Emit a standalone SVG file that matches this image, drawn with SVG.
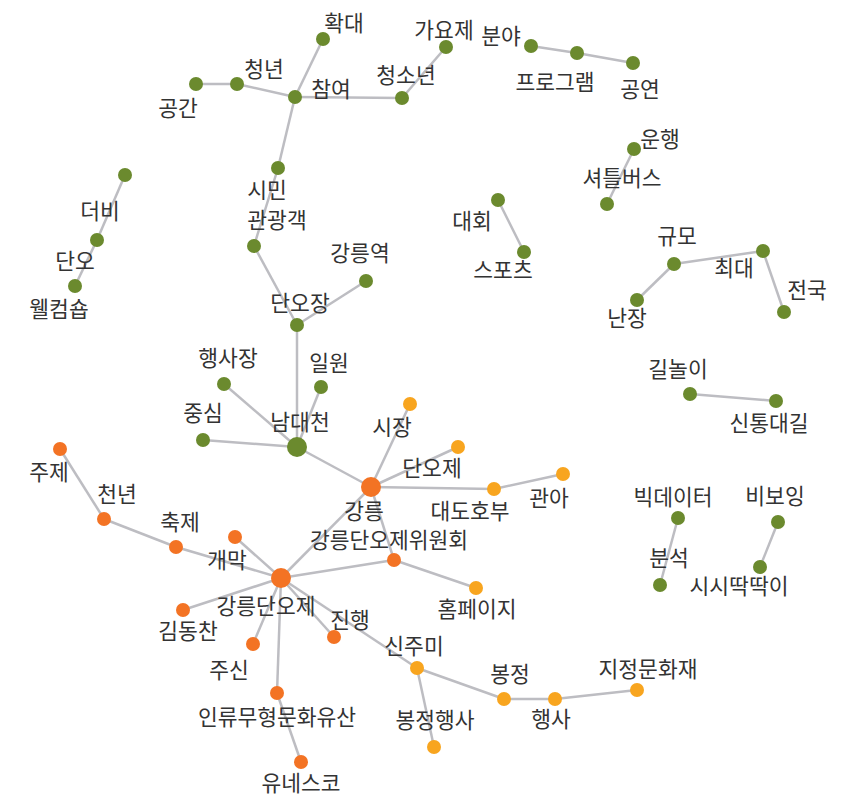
<svg xmlns="http://www.w3.org/2000/svg" width="844" height="798" viewBox="0 0 844 798">
<style>
.e{stroke:#bdbdc2;stroke-width:2.5;fill:none}
.g{fill:#6b8a2e}
.o{fill:#f37324}
.y{fill:#f8a51f}
text{font-family:"Noto Sans CJK KR","Noto Sans",sans-serif;font-size:21.5px;fill:#333;text-anchor:middle}
</style>
<rect width="844" height="798" fill="#fff"/>
<g id="edges">
<line class="e" x1="323" y1="39" x2="295" y2="97"/>
<line class="e" x1="237" y1="84" x2="295" y2="97"/>
<line class="e" x1="196" y1="84" x2="237" y2="84"/>
<line class="e" x1="295" y1="97" x2="402" y2="98"/>
<line class="e" x1="402" y1="98" x2="446" y2="47"/>
<line class="e" x1="295" y1="97" x2="278" y2="168"/>
<line class="e" x1="278" y1="168" x2="254" y2="246"/>
<line class="e" x1="254" y1="246" x2="297" y2="325"/>
<line class="e" x1="297" y1="325" x2="366" y2="281"/>
<line class="e" x1="297" y1="325" x2="297" y2="447"/>
<line class="e" x1="531" y1="46" x2="577" y2="53"/>
<line class="e" x1="577" y1="53" x2="633" y2="63"/>
<line class="e" x1="634" y1="149" x2="607" y2="204"/>
<line class="e" x1="498" y1="200" x2="524" y2="252"/>
<line class="e" x1="674" y1="264" x2="763" y2="251"/>
<line class="e" x1="674" y1="264" x2="637" y2="300"/>
<line class="e" x1="763" y1="251" x2="784" y2="312"/>
<line class="e" x1="125" y1="175" x2="97" y2="240"/>
<line class="e" x1="97" y1="240" x2="75" y2="286"/>
<line class="e" x1="297" y1="447" x2="224" y2="384"/>
<line class="e" x1="297" y1="447" x2="321" y2="387"/>
<line class="e" x1="297" y1="447" x2="203" y2="440"/>
<line class="e" x1="297" y1="447" x2="371" y2="487"/>
<line class="e" x1="690" y1="394" x2="776" y2="401"/>
<line class="e" x1="371" y1="487" x2="410" y2="404"/>
<line class="e" x1="371" y1="487" x2="458" y2="447"/>
<line class="e" x1="371" y1="487" x2="494" y2="489"/>
<line class="e" x1="494" y1="489" x2="563" y2="474"/>
<line class="e" x1="371" y1="487" x2="281" y2="578"/>
<line class="e" x1="371" y1="487" x2="394" y2="560"/>
<line class="e" x1="281" y1="578" x2="394" y2="560"/>
<line class="e" x1="394" y1="560" x2="476" y2="588"/>
<line class="e" x1="281" y1="578" x2="176" y2="547"/>
<line class="e" x1="176" y1="547" x2="104" y2="519"/>
<line class="e" x1="104" y1="519" x2="60" y2="449"/>
<line class="e" x1="281" y1="578" x2="235" y2="537"/>
<line class="e" x1="281" y1="578" x2="183" y2="610"/>
<line class="e" x1="281" y1="578" x2="253" y2="644"/>
<line class="e" x1="281" y1="578" x2="334" y2="637"/>
<line class="e" x1="281" y1="578" x2="417" y2="668"/>
<line class="e" x1="281" y1="578" x2="277" y2="693"/>
<line class="e" x1="277" y1="693" x2="301" y2="762"/>
<line class="e" x1="417" y1="668" x2="434" y2="747"/>
<line class="e" x1="417" y1="668" x2="504" y2="699"/>
<line class="e" x1="504" y1="699" x2="555" y2="699"/>
<line class="e" x1="555" y1="699" x2="637" y2="690"/>
<line class="e" x1="678" y1="518" x2="660" y2="585"/>
<line class="e" x1="778" y1="522" x2="760" y2="567"/>
</g>
<g id="n-hwakdae"><circle class="g" cx="323" cy="39" r="7"/><text x="344" y="31">확대</text></g>
<g id="n-cheongnyeon"><circle class="g" cx="237" cy="84" r="7"/><text x="264" y="77">청년</text></g>
<g id="n-gonggan"><circle class="g" cx="196" cy="84" r="7"/><text x="178" y="116">공간</text></g>
<g id="n-chamyeo"><circle class="g" cx="295" cy="97" r="7"/><text x="331" y="97">참여</text></g>
<g id="n-cheongsonyeon"><circle class="g" cx="402" cy="98" r="7"/><text x="406" y="83">청소년</text></g>
<g id="n-gayoje"><circle class="g" cx="446" cy="47" r="7"/><text x="444" y="38">가요제</text></g>
<g id="n-bunya"><circle class="g" cx="531" cy="46" r="7"/><text x="501" y="44">분야</text></g>
<g id="n-program"><circle class="g" cx="577" cy="53" r="7"/><text x="555" y="90">프로그램</text></g>
<g id="n-gongyeon"><circle class="g" cx="633" cy="63" r="7"/><text x="640" y="97">공연</text></g>
<g id="n-simin"><circle class="g" cx="278" cy="168" r="7"/><text x="267" y="198">시민</text></g>
<g id="n-gwangwanggaek"><circle class="g" cx="254" cy="246" r="7"/><text x="277" y="228">관광객</text></g>
<g id="n-gangneungyeok"><circle class="g" cx="366" cy="281" r="7"/><text x="360" y="261">강릉역</text></g>
<g id="n-danojang"><circle class="g" cx="297" cy="325" r="7"/><text x="300" y="311">단오장</text></g>
<g id="n-unhaeng"><circle class="g" cx="634" cy="149" r="7"/><text x="660" y="147">운행</text></g>
<g id="n-shuttlebus"><circle class="g" cx="607" cy="204" r="7"/><text x="622" y="186">셔틀버스</text></g>
<g id="n-daehoe"><circle class="g" cx="498" cy="200" r="7"/><text x="472" y="229">대회</text></g>
<g id="n-sports"><circle class="g" cx="524" cy="252" r="7"/><text x="503" y="278">스포츠</text></g>
<g id="n-gyumo"><circle class="g" cx="674" cy="264" r="7"/><text x="677" y="244">규모</text></g>
<g id="n-choedae"><circle class="g" cx="763" cy="251" r="7"/><text x="734" y="276">최대</text></g>
<g id="n-nanjang"><circle class="g" cx="637" cy="300" r="7"/><text x="627" y="326">난장</text></g>
<g id="n-jeonguk"><circle class="g" cx="784" cy="312" r="7"/><text x="807" y="298">전국</text></g>
<g id="n-derby"><circle class="g" cx="125" cy="175" r="7"/><text x="100" y="219">더비</text></g>
<g id="n-dano"><circle class="g" cx="97" cy="240" r="7"/><text x="75" y="269">단오</text></g>
<g id="n-welcomshop"><circle class="g" cx="75" cy="286" r="7"/><text x="59" y="317">웰컴숍</text></g>
<g id="n-haengsajang"><circle class="g" cx="224" cy="384" r="7"/><text x="228" y="366">행사장</text></g>
<g id="n-irwon"><circle class="g" cx="321" cy="387" r="7"/><text x="329" y="371">일원</text></g>
<g id="n-jungsim"><circle class="g" cx="203" cy="440" r="7"/><text x="203" y="421">중심</text></g>
<g id="n-namdaecheon"><circle class="g" cx="297" cy="447" r="10"/><text x="300" y="430">남대천</text></g>
<g id="n-gilnori"><circle class="g" cx="690" cy="394" r="7"/><text x="678" y="377">길놀이</text></g>
<g id="n-sintongdaegil"><circle class="g" cx="776" cy="401" r="7"/><text x="769" y="431">신통대길</text></g>
<g id="n-sijang"><circle class="y" cx="410" cy="404" r="7"/><text x="392" y="435">시장</text></g>
<g id="n-danoje"><circle class="y" cx="458" cy="447" r="7"/><text x="432" y="476">단오제</text></g>
<g id="n-gangneung"><circle class="o" cx="371" cy="487" r="10"/><text x="364" y="519">강릉</text></g>
<g id="n-daedohobu"><circle class="y" cx="494" cy="489" r="7"/><text x="470" y="519">대도호부</text></g>
<g id="n-gwana"><circle class="y" cx="563" cy="474" r="7"/><text x="549" y="506">관아</text></g>
<g id="n-juje"><circle class="o" cx="60" cy="449" r="7"/><text x="49" y="480">주제</text></g>
<g id="n-cheonnyeon"><circle class="o" cx="104" cy="519" r="7"/><text x="117" y="502">천년</text></g>
<g id="n-chukje"><circle class="o" cx="176" cy="547" r="7"/><text x="180" y="530">축제</text></g>
<g id="n-gaemak"><circle class="o" cx="235" cy="537" r="7"/><text x="227" y="568">개막</text></g>
<g id="n-gangneungdanoje"><circle class="o" cx="281" cy="578" r="10"/><text x="266" y="614">강릉단오제</text></g>
<g id="n-wiwonhoe"><circle class="o" cx="394" cy="560" r="7"/><text x="389" y="548">강릉단오제위원회</text></g>
<g id="n-homepage"><circle class="y" cx="476" cy="588" r="7"/><text x="477" y="617">홈페이지</text></g>
<g id="n-kimdongchan"><circle class="o" cx="183" cy="610" r="7"/><text x="188" y="639">김동찬</text></g>
<g id="n-jusin"><circle class="o" cx="253" cy="644" r="7"/><text x="229" y="678">주신</text></g>
<g id="n-jinhaeng"><circle class="o" cx="334" cy="637" r="7"/><text x="350" y="628">진행</text></g>
<g id="n-sinjumi"><circle class="y" cx="417" cy="668" r="7"/><text x="414" y="654">신주미</text></g>
<g id="n-heritage"><circle class="o" cx="277" cy="693" r="7"/><text x="277" y="725">인류무형문화유산</text></g>
<g id="n-unesco"><circle class="o" cx="301" cy="762" r="7"/><text x="301" y="791">유네스코</text></g>
<g id="n-bongjeonghaengsa"><circle class="y" cx="434" cy="747" r="7"/><text x="435" y="728">봉정행사</text></g>
<g id="n-bongjeong"><circle class="y" cx="504" cy="699" r="7"/><text x="510" y="682">봉정</text></g>
<g id="n-haengsa"><circle class="y" cx="555" cy="699" r="7"/><text x="551" y="727">행사</text></g>
<g id="n-jijeong"><circle class="y" cx="637" cy="690" r="7"/><text x="648" y="677">지정문화재</text></g>
<g id="n-bigdata"><circle class="g" cx="678" cy="518" r="7"/><text x="673" y="505">빅데이터</text></g>
<g id="n-bunseok"><circle class="g" cx="660" cy="585" r="7"/><text x="669" y="566">분석</text></g>
<g id="n-bboying"><circle class="g" cx="778" cy="522" r="7"/><text x="775" y="504">비보잉</text></g>
<g id="n-sisittakttagi"><circle class="g" cx="760" cy="567" r="7"/><text x="739" y="594">시시딱딱이</text></g>
</svg>
